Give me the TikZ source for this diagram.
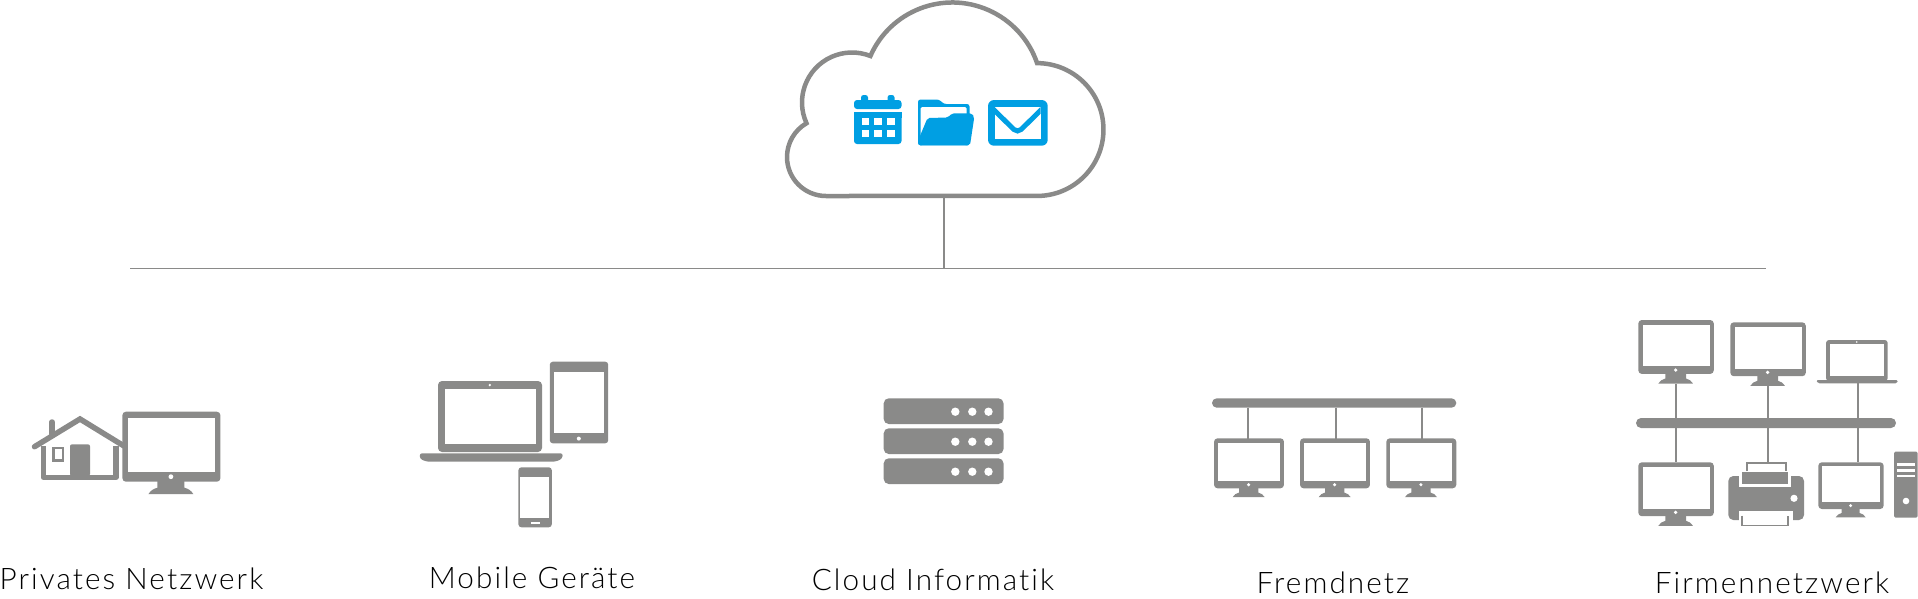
\documentclass[tikz,border=0pt]{standalone}
\usepackage{fontspec}
\setmainfont{Lato Light}[LetterSpace=7,Ligatures={NoCommon}]
\definecolor{iconGray}{HTML}{8A8A89}
\definecolor{cloudBlue}{HTML}{009FE3}
\tikzset{
  icon/.style={fill=iconGray,draw=none},
  hole/.style={fill=white,draw=none},
  wire/.style={draw=iconGray,line width=1.8pt},
  lbl/.style={anchor=base,inner sep=0pt,text=black,font=\fontsize{29.7}{32}\selectfont},
  monitor/.pic={
    \fill[icon,rounded corners=3.5pt] (0,0) rectangle (98,70);
    \fill[hole] (5.5,6) rectangle (92.5,60);
    \fill[hole] (48.5,65) circle (2.4);
    \fill[icon] (35,69) -- (62,69) -- (62,76) .. controls (66,77) and (69,79) .. (71,82.5) -- (26,82.5) .. controls (28,79) and (31,77) .. (35,76) -- cycle;
  },
}
\begin{document}
\begin{tikzpicture}[x=1pt,y=-1pt]
\useasboundingbox (0,0) rectangle (1918,598);
\draw[draw=iconGray,line width=4.5pt,line join=miter] (826,196) arc (90:240:39) arc (155.5:291.6:50) arc (203.7:341.2:89.5) arc (-90:90:66.4) -- cycle;
\coordinate (cloudBottom) at (944,196);
\coordinate (busLeft) at (130,268.5);
\coordinate (busRight) at (1766,268.5);
\coordinate (busTap) at (944,268.5);
\draw[wire] (cloudBottom) -- (busTap);
\draw[wire] (busLeft) -- (busRight);
\fill[cloudBlue,rounded corners=3pt] (854,100) rectangle (901.5,109);
\fill[cloudBlue,rounded corners=3pt] (854,112) rectangle (901.5,144);
\fill[cloudBlue] (854,112) rectangle (901.5,118);
\fill[cloudBlue,rounded corners=2.5pt] (861,104) -- (861,95) -- (868,95) -- (868,104) -- cycle;
\fill[cloudBlue,rounded corners=2.5pt] (887.5,104) -- (887.5,95) -- (894.5,95) -- (894.5,104) -- cycle;
\foreach \cx in {861.7,874.3,887}
  \foreach \cy in {118,129.7}
    \fill[hole] (\cx,\cy) rectangle ++(7.5,7);
\fill[cloudBlue,rounded corners=2.5pt] (918,145.3) -- (918,99.5) -- (939,99.5) -- (944,104) -- (969.5,104) -- (969.5,145.3) -- cycle;
\fill[hole,rounded corners=1.5pt] (920.7,145.3) -- (920.7,107) -- (966.7,107) -- (966.7,145.3) -- cycle;
\fill[cloudBlue,rounded corners=2pt] (927.5,118) -- (948,117.5) -- (952,113.3) -- (971.7,113.3) -- (974.3,117) -- (970,145.3) -- (918.3,145.3) -- (918.3,140) -- cycle;
\fill[cloudBlue,rounded corners=6pt] (988,100) rectangle (1047.7,145.7);
\fill[hole] (995,107) rectangle (1040.7,138.7);
\begin{scope}
\clip (995,107) rectangle (1040.7,138.7);
\draw[draw=cloudBlue,line width=5pt,rounded corners=5pt] (993,109) -- (1017.5,133) -- (1042,109);
\end{scope}
\draw[draw=iconGray,line width=5.5pt,line cap=round] (34.5,446.7) -- (80,419) -- (124,446);
\draw[draw=iconGray,line width=5.5pt,line cap=round] (52,422) -- (52,434);
\draw[draw=iconGray,line width=5.5pt,line join=round] (43.5,446) -- (43.5,477.3) -- (116,477.3) -- (116,446);
\fill[icon,rounded corners=2pt] (70,476) -- (70,444.3) -- (90,444.3) -- (90,476) -- cycle;
\draw[draw=iconGray,line width=2.6pt] (53.4,447.9) rectangle (62.8,460.5);
\pic at (122.4,411.7) {monitor};
\fill[icon,rounded corners=4pt] (438,452) -- (438,381) -- (542,381) -- (542,452) -- cycle;
\fill[hole] (445,389) rectangle (535.5,444.3);
\fill[hole] (489.8,385) circle (1.3);
\fill[icon,rounded corners=2.5pt] (419.6,453.3) -- (563,453.3) -- (562,459) -- (555,461.7) -- (427,461.7) -- (420,459) -- cycle;
\fill[icon,rounded corners=3pt] (549.8,361.7) rectangle (608.2,443.3);
\fill[hole] (554.3,371.7) rectangle (604,433.3);
\fill[hole] (578.8,438.6) circle (2);
\fill[icon,rounded corners=3pt] (518.4,467.3) rectangle (551.8,527.3);
\fill[hole] (520.4,476.7) rectangle (549.4,518.3);
\fill[hole] (530.6,521.8) rectangle (539.6,523.6);
\foreach \ry in {398.3,428.3,458.3} {
  \fill[icon,rounded corners=5pt] (883.7,\ry) rectangle (1003.5,\ry+25.7);
  \foreach \rx in {955.3,972.3,988.5}
    \fill[hole] (\rx,\ry+13.4) circle (4.2);
}
\fill[icon,rounded corners=4.7pt] (1212,398.3) rectangle (1456.3,407.7);
\foreach \mx/\wx in {1214/1248,1300/1335.7,1386.3/1422} {
  \coordinate (topTap) at (\wx,407.7);
  \coordinate (monTap) at (\wx,438.5);
  \draw[wire] (topTap) -- (monTap);
  \pic[scale=0.714] at (\mx,438.3) {monitor};
}
\foreach \wx/\wa/\wb in {1676/384/462.3,1767.7/386/462,1858/383/462.3} {
  \coordinate (wireTop) at (\wx,\wa);
  \coordinate (wireBot) at (\wx,\wb);
  \draw[wire] (wireTop) -- (wireBot);
}
\fill[icon,rounded corners=5pt] (1636,418) rectangle (1896,428);
\pic[scale=0.77] at (1638.3,320) {monitor};
\pic[scale=0.77] at (1730.3,322.3) {monitor};
\pic[scale=0.77] at (1638.3,462.3) {monitor};
\pic[scale=0.667] at (1818.3,462.3) {monitor};
\fill[icon,rounded corners=3pt] (1826,381) -- (1826,340) -- (1887.7,340) -- (1887.7,381) -- cycle;
\fill[hole] (1830,343.7) rectangle (1884.3,376);
\fill[hole] (1856.7,342) circle (0.8);
\fill[icon,rounded corners=1.5pt] (1816,380) -- (1898,380) -- (1897,383.3) -- (1818,383.3) -- cycle;
\fill[icon,rounded corners=5pt] (1728.3,476) rectangle (1804,520);
\fill[hole] (1739.3,470) rectangle (1790.7,487.3);
\fill[icon] (1742,471.7) rectangle (1788,484);
\fill[hole] (1739.3,511) rectangle (1793,523);
\draw[draw=iconGray,line width=1.6pt] (1746.7,471) -- (1746.7,463) -- (1785.7,463) -- (1785.7,471);
\draw[draw=iconGray,line width=1.6pt] (1742,515.7) -- (1742,525.3) -- (1788,525.3) -- (1788,515.7);
\fill[hole] (1794,498.3) circle (3.6);
\fill[icon,rounded corners=1.5pt] (1894,451.7) rectangle (1917.7,517.7);
\fill[hole] (1897,463.3) rectangle (1915,466);
\fill[hole] (1897,469.3) rectangle (1915,472);
\fill[hole] (1897,474.6) rectangle (1915,477.3);
\fill[hole] (1906,501) circle (3.3);
\node[lbl] (privat) at (131.5,589) {Privates Netzwerk};
\node[lbl] (mobil) at (532,588) {Mobile Geräte};
\node[lbl] (cloud) at (933,590.7) {Cloud Informatik};
\node[lbl] (fremd) at (1333,593) {Fremdnetz};
\node[lbl] (firma) at (1772,593) {Firmennetzwerk};
\end{tikzpicture}
\end{document}
